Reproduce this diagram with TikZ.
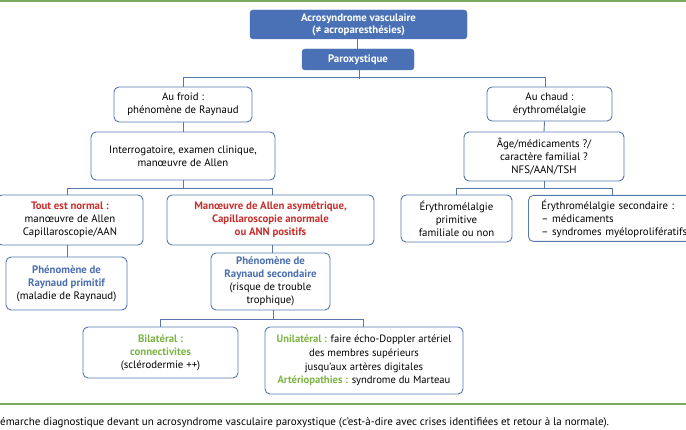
\documentclass[tikz,border=0pt]{standalone}
\usepackage{fontspec}
\setmainfont{PT Sans}
\definecolor{hdr}{HTML}{4A71B6}
\definecolor{bord}{HTML}{5777AD}
\definecolor{redt}{HTML}{C8302E}
\definecolor{bluet}{HTML}{4B6FB0}
\definecolor{greent}{HTML}{7DB446}
\definecolor{rule}{HTML}{7AAB5C}
\tikzset{
  box/.style={draw=bord, line width=0.9pt, rounded corners=5pt, fill=white, align=center, inner sep=0pt, font=\fontsize{10.8}{13}\selectfont},
  hbox/.style={fill=hdr, draw=hdr, rounded corners=3pt, align=center, inner sep=0pt, text=white, font=\fontsize{10.8}{12}\selectfont\bfseries},
  conn/.style={draw=bord, line width=0.9pt},
}
\begin{document}
\begin{tikzpicture}[x=1pt,y=-1pt]
\useasboundingbox (0,0) rectangle (686,430);
\clip (0,0) rectangle (686,430);
\fill[white] (0,0) rectangle (686,430);
\draw[rule, line width=2.5pt] (0,1.2) -- (686,1.2);
\draw[rule, line width=1.5pt] (0,404) -- (686,404);

\node[hbox, minimum width=217, minimum height=29] (acro) at (358.5,24.5) {Acrosyndrome vasculaire\\(≠ acroparesthésies)};
\node[hbox, minimum width=112, minimum height=21] (parox) at (358,59.5) {Paroxystique};

\node[box, minimum width=138, minimum height=35] (froid) at (183,104.5) {Au froid :\\phénomène de Raynaud};
\node[box, minimum width=125, minimum height=34] (chaud) at (549.5,104) {Au chaud :\\érythromélalgie};

\node[box, minimum width=184, minimum height=48] (interrog) at (183,156) {Interrogatoire, examen clinique,\\manœuvre de Allen};
\node[box, minimum width=160, minimum height=49] (age) at (544,156.5) {Âge/médicaments ?/\\caractère familial ?\\NFS/AAN/TSH};

\node[box, minimum width=146, minimum height=50] (tout) at (70,220) {{\color{redt}\bfseries Tout est normal :}\\manœuvre de Allen\\Capillaroscopie/AAN};
\node[box, minimum width=207, minimum height=50, text=redt, font=\fontsize{10.8}{13}\selectfont\bfseries] (man) at (270.5,220) {Manœuvre de Allen asymétrique,\\Capillaroscopie anormale\\ou ANN positifs};
\node[box, minimum width=111, minimum height=47] (eprim) at (456.5,218.5) {Érythromélalgie\\primitive\\familiale ou non};
\node[box, anchor=north west, minimum height=46, text width=175pt, inner xsep=13pt, align=left] (esec) at (528,195) {Érythromélalgie secondaire :\\– médicaments\\– syndromes myéloprolifératifs};

\node[box, minimum width=121, minimum height=53] (pprim) at (66.5,283.5) {{\color{bluet}\bfseries Phénomène de}\\{\color{bluet}\bfseries Raynaud primitif}\\(maladie de Raynaud)};
\node[box, minimum width=119, minimum height=57] (psec) at (270.5,281.5) {{\color{bluet}\bfseries Phénomène de}\\{\color{bluet}\bfseries Raynaud secondaire}\\(risque de trouble\\trophique)};

\node[box, minimum width=155, minimum height=51] (bilat) at (160.5,352.5) {{\color{greent}\bfseries Bilatéral :}\\{\color{greent}\bfseries connectivites}\\(sclérodermie ++)};
\node[box, minimum width=198, minimum height=67, font=\fontsize{10.6}{13.6}\selectfont] (unil) at (364,360.5) {{\color{greent}\bfseries Unilatéral :} faire écho-Doppler artériel\\des membres supérieurs\\jusqu'aux artères digitales\\{\color{greent}\bfseries Artériopathies :} syndrome du Marteau};

\node[anchor=west, inner sep=0pt, font=\fontsize{11}{12}\selectfont] (cap) at (0,423) {émarche diagnostique devant un acrosyndrome vasculaire paroxystique (c'est-à-dire avec crises identifiées et retour à la normale).};

% connectors
\draw[conn] ([xshift=-1.5pt]acro.south) -- ([xshift=-1pt]parox.north);
\draw[conn] ([xshift=1pt]parox.south) -- ++(0,9);
\draw[conn] (froid.north) -- ++(0,-9) -| ([xshift=-4.5pt]chaud.north);
\draw[conn] (froid.south) -- (interrog.north);
\draw[conn] ([xshift=-5pt]chaud.south) -- (age.north);
\draw[conn] (interrog.south) -- ++(0,9);
\draw[conn] ([xshift=-3pt]tout.north) -- ++(0,-6) -| ([xshift=1.5pt]man.north);
\draw[conn] (age.south) -- ++(0,8);
\draw[conn] (eprim.north) -- ++(0,-6) -| ([xshift=84pt]esec.north west);
\draw[conn] ([xshift=-3pt]tout.south) -- ([xshift=0.5pt]pprim.north);
\draw[conn] ([xshift=1.5pt]man.south) -- ([xshift=1.5pt]psec.north);
\draw[conn] ([xshift=2.5pt]psec.south) -- ++(0,10);
\draw[conn] (bilat.north) -- ++(0,-7) -| ([xshift=-1pt]unil.north);
\end{tikzpicture}
\end{document}
